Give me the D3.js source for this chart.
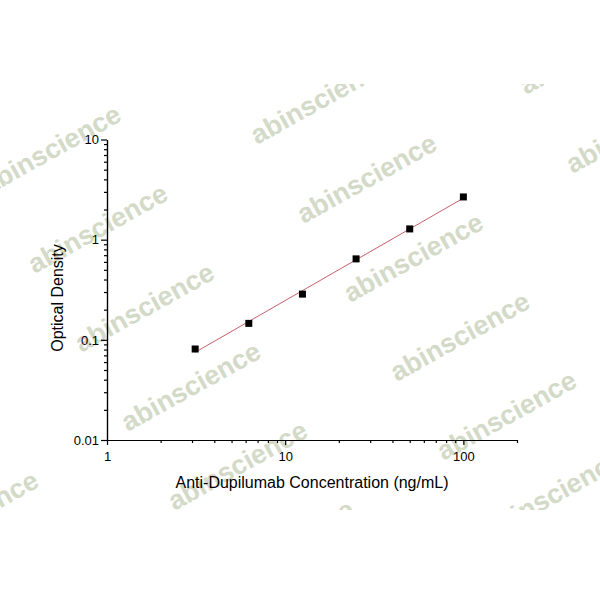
<!DOCTYPE html>
<html>
<head>
<meta charset="utf-8">
<script src="https://cdn.jsdelivr.net/npm/d3@7"></script>
<style>
  body { margin: 0; background: #fff; }
  svg { display: block; font-family: "Liberation Sans", Arial, sans-serif; }
</style>
</head>
<body>
<svg id="chart" width="600" height="600"></svg>
<script>
// standard curve readings
const concentration = [3.125, 6.25, 12.5, 25, 50, 100];
const opticalDensity = [0.081, 0.146, 0.286, 0.643, 1.28, 2.67];

const xMajorTicks = [1, 10, 100];
const xMinorTicks = [2, 3, 4, 5, 6, 7, 8, 9, 20, 30, 40, 50, 60, 70, 80, 90, 200];
const yMajorTicks = [0.01, 0.1, 1, 10];
const yMinorTicks = [0.02, 0.03, 0.04, 0.05, 0.06, 0.07, 0.08, 0.09,
                     0.2, 0.3, 0.4, 0.5, 0.6, 0.7, 0.8, 0.9,
                     2, 3, 4, 5, 6, 7, 8, 9];

const xTitle = "Anti-Dupilumab Concentration (ng/mL)";
const yTitle = "Optical Density";
const watermark = "abinscience";

const svg = d3.select("#chart");

const x = d3.scaleLog().domain([1, 200]).range([107, 517]);
const y = d3.scaleLog().domain([0.01, 10]).range([440, 139.5]);

// watermark tiles, clipped to a band like the original
svg.append("clipPath").attr("id", "wmclip")
  .append("rect").attr("x", 0).attr("y", 84).attr("width", 600).attr("height", 426);

const wm = svg.append("g").attr("clip-path", "url(#wmclip)");
for (let c = -1; c <= 2; c++) {
  for (let r = -1; r <= 6; r++) {
    const px = -12 + c * 269 + r * 46.6;
    const py = 195 - c * 50 + r * 79;
    if (px < -200 || px > 620 || py < 60 || py > 700) continue;
    wm.append("text")
      .attr("transform", `translate(${px},${py}) rotate(-29)`)
      .attr("font-size", 27)
      .attr("font-weight", "bold")
      .attr("fill", "#d3dac7")
      .text(watermark);
  }
}

// axes
const axisStyle = g => {
  g.selectAll("path, line").attr("stroke", "#000").attr("stroke-width", 1.2);
  g.selectAll("text").attr("fill", "#000").attr("font-size", 13)
    .attr("font-family", "Liberation Sans, Arial, sans-serif");
};

svg.append("g")
  .attr("transform", "translate(0,440)")
  .call(d3.axisBottom(x).tickValues(xMajorTicks).tickSize(5).tickSizeOuter(0)
    .tickPadding(7).tickFormat(d3.format("")))
  .call(axisStyle);

svg.append("g")
  .attr("transform", "translate(0,440)")
  .call(d3.axisBottom(x).tickValues(xMinorTicks).tickSize(3).tickSizeOuter(0).tickFormat(""))
  .call(axisStyle);

svg.append("g")
  .attr("transform", "translate(107,0)")
  .call(d3.axisLeft(y).tickValues(yMajorTicks).tickSize(6).tickSizeOuter(0)
    .tickPadding(2).tickFormat(d => d < 1 ? String(d) : d3.format("")(d)))
  .call(axisStyle);

svg.append("g")
  .attr("transform", "translate(107,0)")
  .call(d3.axisLeft(y).tickValues(yMinorTicks).tickSize(3).tickSizeOuter(0).tickFormat(""))
  .call(axisStyle);

// linear fit in log-log space
const lx = concentration.map(Math.log10);
const ly = opticalDensity.map(Math.log10);
const mx = d3.mean(lx), my = d3.mean(ly);
const slope = d3.sum(lx, (v, i) => (v - mx) * (ly[i] - my)) / d3.sum(lx, v => (v - mx) ** 2);
const icpt = my - slope * mx;
const fitEnds = d3.extent(concentration).map(c => [c, Math.pow(10, icpt + slope * Math.log10(c))]);

svg.append("path")
  .attr("d", d3.line().x(d => x(d[0])).y(d => y(d[1]))(fitEnds))
  .attr("fill", "none")
  .attr("stroke", "#c4606c")
  .attr("stroke-width", 1);

const size = 7;
svg.selectAll("rect.pt")
  .data(concentration)
  .enter().append("rect")
  .attr("class", "pt")
  .attr("x", d => x(d) - size / 2)
  .attr("y", (d, i) => y(opticalDensity[i]) - size / 2)
  .attr("width", size)
  .attr("height", size)
  .attr("fill", "#000");

// titles
svg.append("text")
  .attr("x", 312).attr("y", 488)
  .attr("text-anchor", "middle")
  .attr("font-size", 16)
  .text(xTitle);

svg.append("text")
  .attr("transform", "translate(63,298) rotate(-90)")
  .attr("text-anchor", "middle")
  .attr("font-size", 16)
  .text(yTitle);
</script>
</body>
</html>
